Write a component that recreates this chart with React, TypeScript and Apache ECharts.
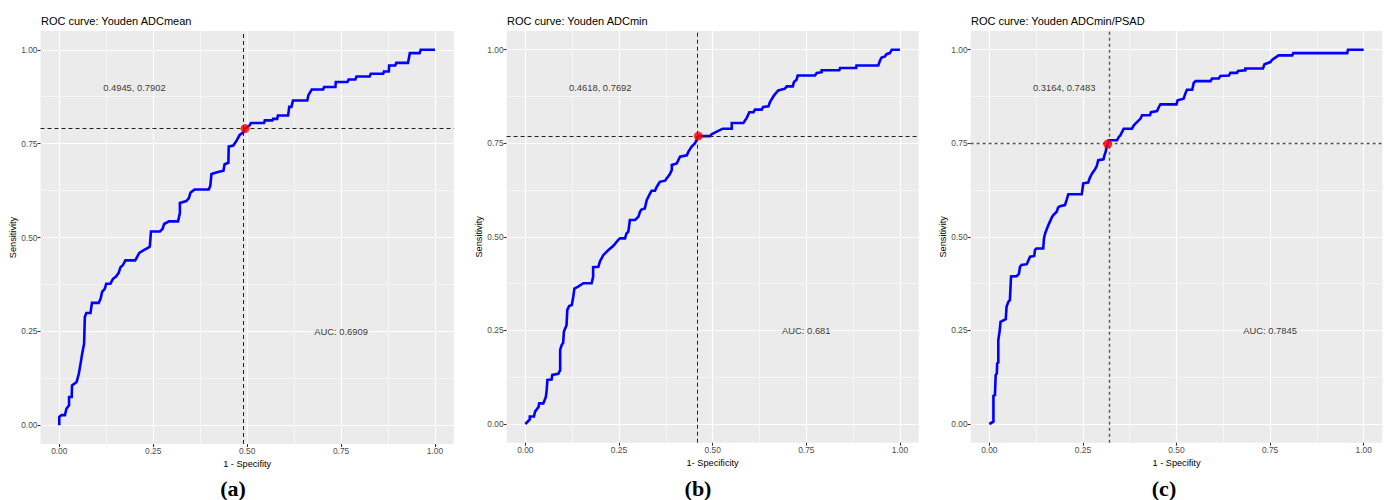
import React, { useEffect, useRef } from "react";
import * as echarts from "echarts";

const titles = ["ROC curve: Youden ADCmean", "ROC curve: Youden ADCmin", "ROC curve: Youden ADCmin/PSAD"];
const xTitles = ["1 - Specifity", "1- Specificity", "1 - Specifity"];
const yTitle = "Sensitivity";
const panelLetters = ["(a)", "(b)", "(c)"];
const majorTicks = [0, 0.25, 0.5, 0.75, 1];
const minorTicks = [0.125, 0.375, 0.625, 0.875];
const cutX = [0.4945, 0.4618, 0.3164];
const cutY = [0.7902, 0.7692, 0.7483];
const cutLabels = ["0.4945, 0.7902", "0.4618, 0.7692", "0.3164, 0.7483"];
const aucLabels = ["AUC: 0.6909", "AUC: 0.681", "AUC: 0.7845"];
const cutLabelPos = [0.2, 0.9];
const aucLabelPos = [0.75, 0.25];

const rocA = [
  [0, 0], [0, 0.022], [0.006, 0.027], [0.015, 0.027], [0.019, 0.044], [0.026, 0.053], [0.026, 0.075], [0.033, 0.075],
  [0.034, 0.106], [0.046, 0.115], [0.052, 0.137], [0.057, 0.166], [0.061, 0.191], [0.066, 0.217], [0.068, 0.288],
  [0.072, 0.299], [0.083, 0.299], [0.087, 0.326], [0.105, 0.326], [0.11, 0.337], [0.114, 0.355], [0.121, 0.363],
  [0.125, 0.377], [0.136, 0.377], [0.143, 0.39], [0.151, 0.396], [0.158, 0.406], [0.163, 0.421], [0.169, 0.426],
  [0.176, 0.439], [0.202, 0.439], [0.209, 0.452], [0.213, 0.459], [0.226, 0.467], [0.237, 0.473], [0.241, 0.476],
  [0.244, 0.516], [0.268, 0.516], [0.275, 0.523], [0.279, 0.536], [0.292, 0.543], [0.316, 0.543], [0.321, 0.565],
  [0.321, 0.592], [0.338, 0.597], [0.345, 0.605], [0.349, 0.619], [0.36, 0.628], [0.398, 0.628], [0.402, 0.638],
  [0.405, 0.669], [0.42, 0.674], [0.437, 0.678], [0.44, 0.695], [0.45, 0.699], [0.451, 0.742], [0.463, 0.745],
  [0.47, 0.755], [0.48, 0.773], [0.49, 0.78], [0.4945, 0.7902],
  [0.507, 0.799], [0.51, 0.805], [0.545, 0.805], [0.547, 0.812], [0.567, 0.812], [0.569, 0.816], [0.58, 0.816],
  [0.582, 0.825], [0.609, 0.825], [0.612, 0.848], [0.618, 0.848], [0.622, 0.865], [0.66, 0.865], [0.663, 0.879],
  [0.672, 0.894], [0.702, 0.894], [0.705, 0.901], [0.735, 0.901], [0.736, 0.914], [0.767, 0.914], [0.77, 0.921],
  [0.788, 0.921], [0.791, 0.929], [0.826, 0.929], [0.829, 0.936], [0.862, 0.936], [0.864, 0.942], [0.877, 0.942],
  [0.878, 0.958], [0.894, 0.958], [0.897, 0.965], [0.928, 0.965], [0.931, 0.98], [0.933, 0.991], [0.959, 0.991],
  [0.962, 1], [1, 1],
];

const rocB = [
  [0, 0], [0.012, 0.012], [0.012, 0.02], [0.023, 0.02], [0.026, 0.033], [0.035, 0.045], [0.037, 0.055], [0.048, 0.055],
  [0.055, 0.073], [0.057, 0.091], [0.059, 0.118], [0.07, 0.119], [0.072, 0.131], [0.088, 0.134], [0.093, 0.144],
  [0.093, 0.198], [0.097, 0.211], [0.101, 0.217], [0.103, 0.247], [0.11, 0.264], [0.112, 0.305], [0.117, 0.315],
  [0.124, 0.318], [0.128, 0.34], [0.131, 0.362], [0.141, 0.367], [0.155, 0.376], [0.177, 0.376], [0.181, 0.394],
  [0.181, 0.419], [0.195, 0.42], [0.199, 0.434], [0.208, 0.451], [0.222, 0.465], [0.235, 0.476], [0.248, 0.492],
  [0.253, 0.496], [0.266, 0.496], [0.27, 0.509], [0.275, 0.514], [0.279, 0.545], [0.293, 0.545], [0.302, 0.554],
  [0.306, 0.567], [0.31, 0.573], [0.319, 0.576], [0.324, 0.598], [0.333, 0.616], [0.337, 0.623], [0.346, 0.623],
  [0.351, 0.634], [0.359, 0.647], [0.373, 0.65], [0.377, 0.656], [0.386, 0.668], [0.391, 0.679], [0.391, 0.692],
  [0.404, 0.696], [0.413, 0.714], [0.431, 0.718], [0.435, 0.727], [0.444, 0.741], [0.453, 0.75], [0.4618, 0.7692],
  [0.493, 0.7692], [0.497, 0.774], [0.515, 0.783], [0.527, 0.789], [0.551, 0.789], [0.551, 0.804], [0.582, 0.804],
  [0.591, 0.818], [0.598, 0.833], [0.609, 0.833], [0.613, 0.84], [0.631, 0.84], [0.635, 0.847], [0.649, 0.849],
  [0.653, 0.86], [0.664, 0.878], [0.675, 0.891], [0.693, 0.896], [0.698, 0.902], [0.714, 0.902], [0.717, 0.914],
  [0.724, 0.92], [0.727, 0.931], [0.773, 0.931], [0.778, 0.938], [0.791, 0.94], [0.791, 0.945], [0.838, 0.945],
  [0.84, 0.951], [0.883, 0.951], [0.884, 0.958], [0.942, 0.958], [0.947, 0.972], [0.951, 0.979], [0.96, 0.982],
  [0.964, 0.988], [0.973, 0.991], [0.978, 1], [1, 1],
];

const rocC = [
  [0, 0], [0.011, 0.006], [0.011, 0.075], [0.015, 0.077], [0.017, 0.131], [0.02, 0.135], [0.021, 0.162], [0.024, 0.164],
  [0.024, 0.224], [0.028, 0.251], [0.03, 0.273], [0.044, 0.28], [0.046, 0.313], [0.051, 0.327], [0.055, 0.331],
  [0.058, 0.394], [0.073, 0.395], [0.079, 0.401], [0.082, 0.42], [0.086, 0.425], [0.1, 0.427], [0.104, 0.436],
  [0.109, 0.447], [0.12, 0.449], [0.122, 0.465], [0.126, 0.469], [0.144, 0.469], [0.146, 0.496], [0.149, 0.509],
  [0.158, 0.532], [0.167, 0.552], [0.171, 0.558], [0.18, 0.567], [0.184, 0.579], [0.189, 0.582], [0.202, 0.585],
  [0.207, 0.6], [0.211, 0.614], [0.247, 0.614], [0.251, 0.643], [0.264, 0.645], [0.269, 0.659], [0.275, 0.67],
  [0.282, 0.68], [0.287, 0.689], [0.291, 0.705], [0.305, 0.707], [0.307, 0.716], [0.311, 0.728], [0.313, 0.739],
  [0.3164, 0.7483], [0.319, 0.758], [0.341, 0.758], [0.346, 0.767], [0.35, 0.771], [0.359, 0.789], [0.381, 0.789],
  [0.386, 0.798], [0.395, 0.807], [0.404, 0.816], [0.408, 0.825], [0.429, 0.825], [0.432, 0.833], [0.448, 0.836],
  [0.453, 0.847], [0.457, 0.854], [0.5, 0.854], [0.503, 0.865], [0.519, 0.869], [0.524, 0.884], [0.528, 0.893],
  [0.542, 0.893], [0.546, 0.911], [0.551, 0.916], [0.591, 0.916], [0.595, 0.923], [0.613, 0.923], [0.617, 0.93],
  [0.64, 0.931], [0.644, 0.938], [0.662, 0.938], [0.664, 0.943], [0.684, 0.945], [0.684, 0.95], [0.731, 0.95],
  [0.735, 0.961], [0.751, 0.967], [0.755, 0.973], [0.764, 0.979], [0.773, 0.985], [0.809, 0.985], [0.812, 0.991],
  [0.956, 0.991], [0.958, 1], [1, 1],
];

const rocs = [rocA, rocB, rocC];

export default function App() {
  const ref = useRef<HTMLDivElement>(null);
  useEffect(() => {
    if (!ref.current) return;
    const chart = echarts.init(ref.current, null, { renderer: "svg" });
    const font = "'Liberation Sans', Arial, sans-serif";
    const grids = [
      { left: 40.5, top: 31, width: 413.3, height: 413 },
      { left: 506.6, top: 31, width: 412.1, height: 411.7 },
      { left: 970.6, top: 31, width: 411.8, height: 411.7 },
    ];
    const titleLeft = [41, 507, 971];
    const letterX = [233, 698, 1164];
    const dashColor = ["#222", "#222", "#555"];
    const dashType: any = [[4, 3], [4, 3], [3, 3]];
    const dashWidth = [1, 1, 1.4];

    const xAxes: any[] = [];
    const yAxes: any[] = [];
    const series: any[] = [];
    grids.forEach((g, i) => {
      const baseAxis = {
        type: "value",
        gridIndex: i,
        min: -0.05,
        max: 1.05,
        axisLine: { show: false, onZero: false },
      };
      const majorLabel = {
        customValues: majorTicks,
        margin: 3,
        fontSize: 8.4,
        color: "#4D4D4D",
        fontFamily: font,
        formatter: (v: number) => v.toFixed(2),
      };
      xAxes.push({
        ...baseAxis,
        position: "bottom",
        name: xTitles[i],
        nameLocation: "middle",
        nameGap: 15,
        nameTextStyle: { fontSize: 9.2, color: "#000", fontFamily: font },
        axisTick: { show: true, length: 3, lineStyle: { color: "#333", width: 1 }, customValues: majorTicks },
        axisLabel: majorLabel,
        splitLine: { show: true, lineStyle: { color: "#fff", width: 1.1 } },
      });
      xAxes.push({
        ...baseAxis,
        position: "top",
        axisTick: { show: false, customValues: minorTicks },
        axisLabel: { show: false },
        splitLine: { show: true, lineStyle: { color: "#fff", width: 0.5 } },
      });
      yAxes.push({
        ...baseAxis,
        position: "left",
        name: yTitle,
        nameLocation: "middle",
        nameGap: 23,
        nameTextStyle: { fontSize: 9.2, color: "#000", fontFamily: font },
        axisTick: { show: true, length: 3, lineStyle: { color: "#333", width: 1 }, customValues: majorTicks },
        axisLabel: majorLabel,
        splitLine: { show: true, lineStyle: { color: "#fff", width: 1.1 } },
      });
      yAxes.push({
        ...baseAxis,
        position: "right",
        axisTick: { show: false, customValues: minorTicks },
        axisLabel: { show: false },
        splitLine: { show: true, lineStyle: { color: "#fff", width: 0.5 } },
      });

      series.push({
        type: "line",
        xAxisIndex: i * 2,
        yAxisIndex: i * 2,
        data: rocs[i],
        showSymbol: false,
        symbol: "none",
        lineStyle: { color: "#0000FF", width: 2.6, join: "miter" },
        z: 3,
        markLine: {
          silent: true,
          symbol: "none",
          label: { show: false },
          lineStyle: { type: dashType[i], color: dashColor[i], width: dashWidth[i] },
          data: [{ xAxis: cutX[i] }, { yAxis: cutY[i] }],
          z: 4,
        },
      });
      series.push({
        type: "scatter",
        xAxisIndex: i * 2,
        yAxisIndex: i * 2,
        data: [[cutX[i], cutY[i]]],
        symbolSize: 9,
        itemStyle: { color: "#FF0000" },
        z: 6,
      });
      series.push({
        type: "scatter",
        xAxisIndex: i * 2,
        yAxisIndex: i * 2,
        data: [
          [cutLabelPos[0], cutLabelPos[1], cutLabels[i]],
          [aucLabelPos[0], aucLabelPos[1], aucLabels[i]],
        ],
        symbolSize: 1,
        itemStyle: { color: "#EBEBEB" },
        label: {
          show: true,
          position: "inside",
          formatter: (p: any) => p.data[2],
          fontSize: 9.4,
          color: "#000",
          fontFamily: font,
        },
        z: 5,
      });
    });

    chart.setOption({
      animation: false,
      textStyle: { fontFamily: font },
      title: titles.map((t, i) => ({
        text: t,
        left: titleLeft[i],
        top: 15,
        padding: 0,
        textStyle: { fontSize: 11, fontWeight: "normal", color: "#000", fontFamily: font },
      })),
      grid: grids.map((g) => ({ ...g, show: true, backgroundColor: "#EBEBEB", borderWidth: 0 })),
      xAxis: xAxes,
      yAxis: yAxes,
      series,
      graphic: panelLetters.map((t, i) => ({
        type: "text",
        x: letterX[i],
        y: 488,
        style: {
          text: t,
          font: "bold 22px 'Liberation Serif', 'DejaVu Serif', serif",
          fill: "#000",
          textAlign: "center",
          textVerticalAlign: "middle",
        },
      })),
    });
    return () => chart.dispose();
  }, []);
  return (
    <div
      ref={ref}
      style={{ position: "absolute", left: 0, top: 0, width: 1387, height: 500, background: "#fff" }}
    />
  );
}
